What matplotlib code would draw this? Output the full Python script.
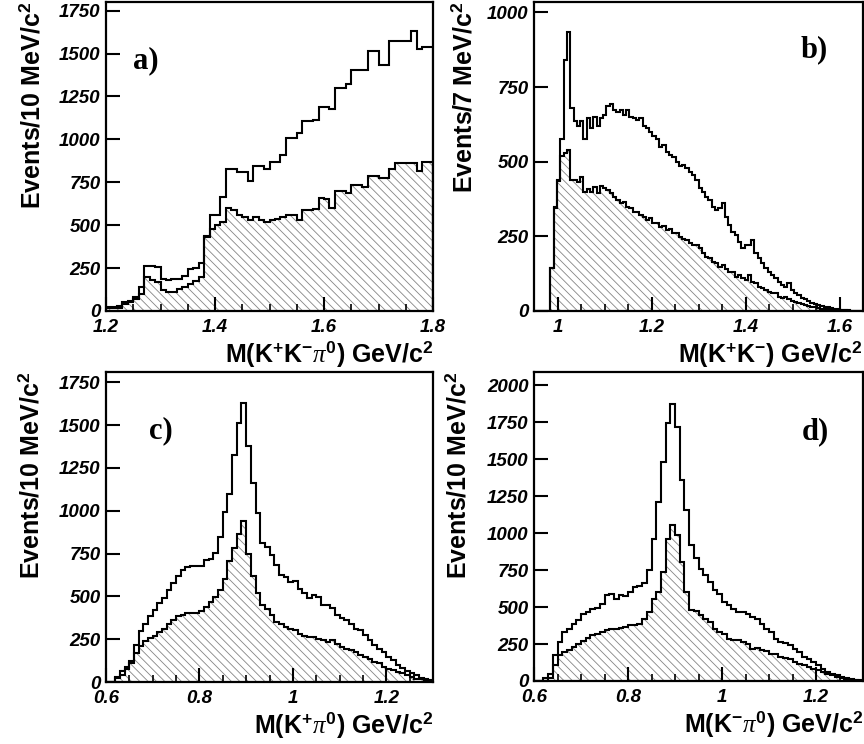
import numpy as np
import matplotlib
matplotlib.use('Agg')
import matplotlib.pyplot as plt
from matplotlib.ticker import MultipleLocator

# ---- data: bin contents ----
# a) M(K+K-pi0), 1.2-1.8 GeV, 10 MeV bins
a_range = (1.2, 1.8)
a_upper = [25, 25, 30, 55, 60, 80, 140, 265, 265, 255,
           185, 180, 185, 185, 205, 245, 250, 280, 435, 560,
           560, 665, 830, 830, 810, 810, 755, 845, 845, 830,
           870, 870, 910, 1010, 1010, 1035, 1105, 1105, 1115, 1190,
           1190, 1175, 1300, 1300, 1320, 1405, 1405, 1405, 1515, 1515,
           1435, 1435, 1570, 1570, 1570, 1570, 1630, 1525, 1535, 1535]
a_lower = [15, 15, 20, 40, 55, 70, 100, 200, 180, 170,
           120, 112, 112, 130, 140, 160, 175, 200, 430, 480,
           500, 520, 600, 590, 560, 545, 530, 550, 530, 520,
           530, 535, 550, 560, 560, 530, 590, 590, 595, 660,
           655, 600, 700, 700, 685, 735, 735, 725, 785, 785,
           775, 775, 825, 860, 860, 860, 865, 815, 870, 870]

# b) M(K+K-), 0.95-1.65 GeV, 7 MeV bins
b_range = (0.95, 1.65)
b_upper = [0, 0, 0, 0, 0, 143, 347, 440, 575, 840,
           935, 680, 635, 618, 635, 575, 645, 612, 650, 620,
           645, 657, 685, 695, 673, 668, 673, 657, 673, 650,
           645, 640, 645, 618, 612, 600, 585, 575, 550, 555,
           534, 523, 517, 500, 487, 490, 478, 467, 456, 440,
           411, 400, 383, 372, 350, 339, 345, 361, 316, 288,
           266, 255, 232, 210, 221, 221, 238, 193, 177, 160,
           143, 132, 120, 110, 98, 87, 82, 93, 70, 59,
           54, 45, 39, 34, 28, 23, 20, 17, 14, 12,
           9, 7, 5, 3, 2, 2, 1, 1, 0, 0]
b_lower = [0, 0, 0, 0, 0, 143, 345, 435, 520, 530,
           540, 440, 440, 432, 450, 400, 410, 400, 417, 395,
           420, 411, 405, 395, 383, 372, 361, 365, 350, 345,
           333, 333, 322, 316, 305, 310, 294, 294, 283, 285,
           271, 273, 260, 260, 247, 240, 238, 229, 221, 221,
           210, 193, 182, 177, 165, 160, 149, 154, 140, 132,
           132, 115, 121, 110, 104, 121, 98, 93, 82, 76,
           70, 65, 59, 59, 48, 45, 48, 39, 34, 31,
           26, 23, 20, 17, 14, 12, 10, 8, 7, 6,
           5, 4, 3, 3, 2, 1, 1, 0, 0, 0]

# c) M(K+pi0), 0.6-1.3 GeV, 10 MeV bins
c_range = (0.6, 1.3)
c_upper = [0, 0, 30, 63, 90, 120, 215, 300, 340, 385,
           420, 460, 490, 535, 580, 620, 655, 670, 677, 677,
           680, 715, 720, 755, 849, 990, 1097, 1327, 1512, 1629,
           1380, 1161, 985, 810, 790, 741, 683, 624, 615, 585,
           590, 546, 520, 488, 507, 495, 449, 449, 430, 390,
           371, 365, 341, 312, 305, 273, 244, 215, 195, 176,
           146, 127, 100, 80, 65, 50, 39, 25, 18, 12]
c_lower = [0, 0, 25, 40, 75, 110, 170, 210, 240, 258,
           270, 290, 310, 340, 365, 385, 392, 405, 405, 405,
           415, 440, 465, 498, 535, 600, 705, 782, 865, 943,
           750, 620, 517, 449, 429, 390, 351, 341, 322, 312,
           302, 283, 270, 263, 263, 254, 244, 234, 244, 224,
           205, 195, 185, 176, 160, 146, 137, 117, 110, 88,
           78, 70, 58, 50, 39, 29, 20, 15, 10, 5]

# d) M(K-pi0), 0.6-1.3 GeV, 10 MeV bins
d_range = (0.6, 1.3)
d_upper = [0, 0, 20, 50, 174, 264, 331, 354, 388, 410,
           455, 467, 489, 495, 523, 579, 585, 557, 579, 575,
           602, 636, 645, 660, 749, 963, 1211, 1481, 1747, 1876,
           1718, 1357, 1154, 920, 830, 760, 715, 670, 613, 591,
           534, 512, 489, 467, 467, 455, 433, 422, 388, 354,
           331, 286, 264, 260, 241, 219, 196, 162, 151, 129,
           106, 83, 61, 50, 38, 27, 20, 15, 10, 6]
d_lower = [0, 0, 0, 20, 106, 174, 196, 207, 230, 250,
           270, 290, 309, 320, 330, 343, 354, 354, 360, 365,
           377, 380, 388, 422, 467, 557, 602, 737, 963, 1053,
           985, 805, 602, 478, 470, 444, 420, 399, 354, 331,
           320, 286, 275, 280, 264, 253, 219, 225, 207, 200,
           185, 180, 162, 158, 151, 129, 118, 106, 95, 83,
           72, 61, 50, 38, 27, 18, 12, 8, 5, 3]

plt.rcParams['font.family'] = ['Liberation Sans', 'DejaVu Sans']
plt.rcParams['mathtext.fontset'] = 'custom'
plt.rcParams['mathtext.rm'] = 'Liberation Sans:bold'
plt.rcParams['mathtext.bf'] = 'Liberation Sans:bold'
plt.rcParams['mathtext.it'] = 'Liberation Serif:italic'
plt.rcParams['hatch.linewidth'] = 0.6

fig = plt.figure(figsize=(8.64, 7.44), dpi=100)

ylab10 = r'Events/10 MeV/c$^{2}$'
panels = [
    dict(rect=[0.1227, 0.582, 0.3785, 0.4153], rng=a_range, up=a_upper, lo=a_lower,
         ymax=1800, yticks=[0, 250, 500, 750, 1000, 1250, 1500, 1750],
         xticks=[1.2, 1.4, 1.6, 1.8], tag='a)', tagpos=(0.083, 0.81),
         xlabel=r'M(K$^{+}$K$^{-}$$\pi^{0}$) GeV/c$^{2}$', ylabel=ylab10, ylx=-0.226),
    dict(rect=[0.6181, 0.582, 0.3808, 0.4153], rng=b_range, up=b_upper, lo=b_lower,
         ymax=1035, yticks=[0, 250, 500, 750, 1000],
         xticks=[1.0, 1.2, 1.4, 1.6], tag='b)', tagpos=(0.81, 0.845),
         xlabel=r'M(K$^{+}$K$^{-}$) GeV/c$^{2}$', ylabel=r'Events/7 MeV/c$^{2}$', ylx=-0.213),
    dict(rect=[0.1227, 0.0833, 0.3785, 0.4167], rng=c_range, up=c_upper, lo=c_lower,
         ymax=1810, yticks=[0, 250, 500, 750, 1000, 1250, 1500, 1750],
         xticks=[0.6, 0.8, 1.0, 1.2], tag='c)', tagpos=(0.13, 0.81),
         xlabel=r'M(K$^{+}$$\pi^{0}$) GeV/c$^{2}$', ylabel=ylab10, ylx=-0.229),
    dict(rect=[0.6181, 0.0847, 0.3808, 0.4153], rng=d_range, up=d_upper, lo=d_lower,
         ymax=2090, yticks=[0, 250, 500, 750, 1000, 1250, 1500, 1750, 2000],
         xticks=[0.6, 0.8, 1.0, 1.2], tag='d)', tagpos=(0.815, 0.806),
         xlabel=r'M(K$^{-}$$\pi^{0}$) GeV/c$^{2}$', ylabel=ylab10, ylx=-0.23),
]

for p in panels:
    ax = fig.add_axes(p['rect'])
    edges = np.linspace(p['rng'][0], p['rng'][1], len(p['up']) + 1)
    # hatched lower histogram
    ax.stairs(p['lo'], edges, fill=True, facecolor='white', edgecolor='#858585',
              hatch='\\\\\\\\', linewidth=0)
    ax.stairs(p['lo'], edges, color='black', linewidth=1.5)
    ax.stairs(p['up'], edges, color='black', linewidth=1.5)

    ax.set_xlim(*p['rng'])
    ax.set_ylim(0, p['ymax'])
    ax.set_xticks(p['xticks'], ['%g' % t for t in p['xticks']],
                  fontstyle='italic', fontweight='bold', fontsize=13.5)
    ax.set_yticks(p['yticks'], ['%g' % t for t in p['yticks']],
                  fontstyle='italic', fontweight='bold', fontsize=13.5)
    ax.xaxis.set_minor_locator(MultipleLocator(0.05))
    ax.tick_params(which='both', direction='in', top=False, right=False)
    ax.tick_params(which='major', length=10, width=1.5)
    ax.tick_params(axis='x', which='major', pad=6)
    ax.tick_params(axis='y', which='major', pad=4)
    ax.tick_params(which='minor', length=5, width=1.2)
    for s in ax.spines.values():
        s.set_linewidth(1.6)

    ax.set_xlabel(p['xlabel'], loc='right', fontsize=18, fontweight='bold', va='center')
    ax.xaxis.set_label_coords(1.0, -0.14)
    ax.set_ylabel(p['ylabel'], loc='top', fontsize=18, fontweight='bold', va='center')
    ax.yaxis.set_label_coords(p['ylx'], 1.0)

    ax.text(p['tagpos'][0], p['tagpos'][1], p['tag'], transform=ax.transAxes,
            fontfamily='Liberation Serif', fontweight='bold', fontsize=22,
            ha='left', va='center')

fig.savefig('out.png', dpi=100)
